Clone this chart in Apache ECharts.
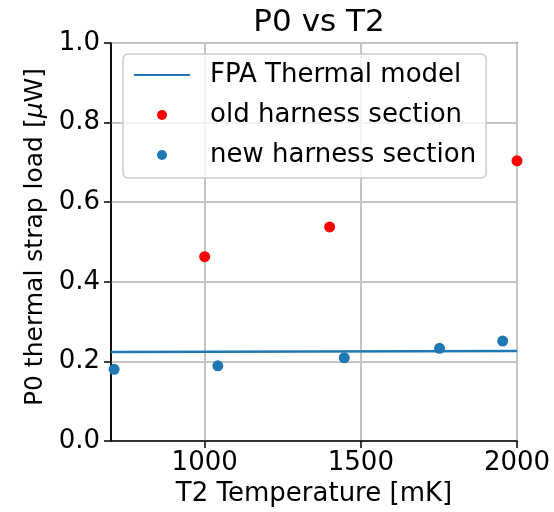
<!DOCTYPE html>
<html>
<head>
<meta charset="utf-8">
<script src="https://cdn.jsdelivr.net/npm/echarts@6/dist/echarts.min.js"></script>
<style>
  html, body { margin: 0; padding: 0; background: #fff; }
  #chart { width: 554px; height: 512px; }
</style>
</head>
<body>
<div id="chart"></div>
<script>
// T2 temperature [mK] vs P0 load [uW]
const modelLine = [[700, 0.2237], [2000, 0.2262]]
const oldHarness = [[1000, 0.463], [1400, 0.538], [2000, 0.704]]
const newHarness = [[710, 0.180], [1042, 0.189], [1447, 0.209], [1752, 0.233], [1954, 0.251]]
const xTicks = [1000, 1500, 2000]

const font = 'DejaVu Sans'
const chart = echarts.init(document.getElementById('chart'))

chart.setOption({
  animation: false,
  title: {
    text: 'P0 vs T2',
    left: 314,
    textAlign: 'center',
    top: 2,
    textStyle: { fontFamily: font, fontSize: 31, fontWeight: 'normal', color: '#000' },
  },
  grid: {
    left: 111, right: 37, top: 43, bottom: 68,
    show: true, borderColor: '#000', borderWidth: 1.5,
  },
  legend: {
    orient: 'vertical',
    left: 123,
    top: 54,
    padding: [6, 10, 8, 10],
    itemGap: 10,
    itemWidth: 56,
    itemHeight: 10,
    backgroundColor: 'rgba(255,255,255,0.8)',
    borderColor: '#cccccc',
    borderWidth: 1.5,
    borderRadius: 5,
    textStyle: { fontFamily: font, fontSize: 26, color: '#000', lineHeight: 30, padding: [0, 0, 0, 15] },
    data: [
      { name: 'FPA Thermal model', itemStyle: { opacity: 0 } },
      'old harness section',
      'new harness section',
    ],
  },
  xAxis: {
    type: 'value',
    min: 700,
    max: 2000,
    name: 'T2 Temperature [mK]',
    nameLocation: 'middle',
    nameGap: 40,
    nameTextStyle: { fontFamily: font, fontSize: 26, color: '#000' },
    axisLine: { show: true, lineStyle: { color: '#000', width: 1.5 } },
    axisTick: { show: true, inside: false, length: 7, customValues: xTicks, lineStyle: { color: '#000', width: 1.5 } },
    axisLabel: {
      customValues: xTicks, margin: 9, fontFamily: font, fontSize: 26, color: '#000',
      formatter: (v) => String(v),
    },
    splitLine: { show: true, lineStyle: { color: '#c4c4c4', width: 2 } },
  },
  yAxis: {
    type: 'value',
    min: 0,
    max: 1,
    interval: 0.2,
    name: 'P0 thermal strap load [{i|μ}W]',
    nameLocation: 'middle',
    nameGap: 62,
    nameTextStyle: {
      fontFamily: font, fontSize: 25, color: '#000', padding: [0, 0, 0, 10],
      rich: { i: { fontFamily: font, fontSize: 25, fontStyle: 'italic', color: '#000' } },
    },
    axisLine: { show: true, lineStyle: { color: '#000', width: 1.5 } },
    axisTick: { show: true, inside: false, length: 7, lineStyle: { color: '#000', width: 1.5 } },
    axisLabel: {
      margin: 11, fontFamily: font, fontSize: 26, color: '#000',
      formatter: (v) => v.toFixed(1),
    },
    splitLine: { show: true, lineStyle: { color: '#c4c4c4', width: 2 } },
  },
  series: [
    {
      name: 'FPA Thermal model',
      type: 'line',
      data: modelLine,
      symbol: 'none',
      lineStyle: { color: '#1f77b4', width: 2.5 },
      itemStyle: { color: '#1f77b4' },
      z: 3,
    },
    {
      name: 'old harness section',
      type: 'scatter',
      data: oldHarness,
      symbolSize: 11,
      itemStyle: { color: '#ff0000', opacity: 1 },
      z: 4,
    },
    {
      name: 'new harness section',
      type: 'scatter',
      data: newHarness,
      symbolSize: 11,
      itemStyle: { color: '#1f77b4', opacity: 1 },
      z: 4,
    },
  ],
})
</script>
</body>
</html>
